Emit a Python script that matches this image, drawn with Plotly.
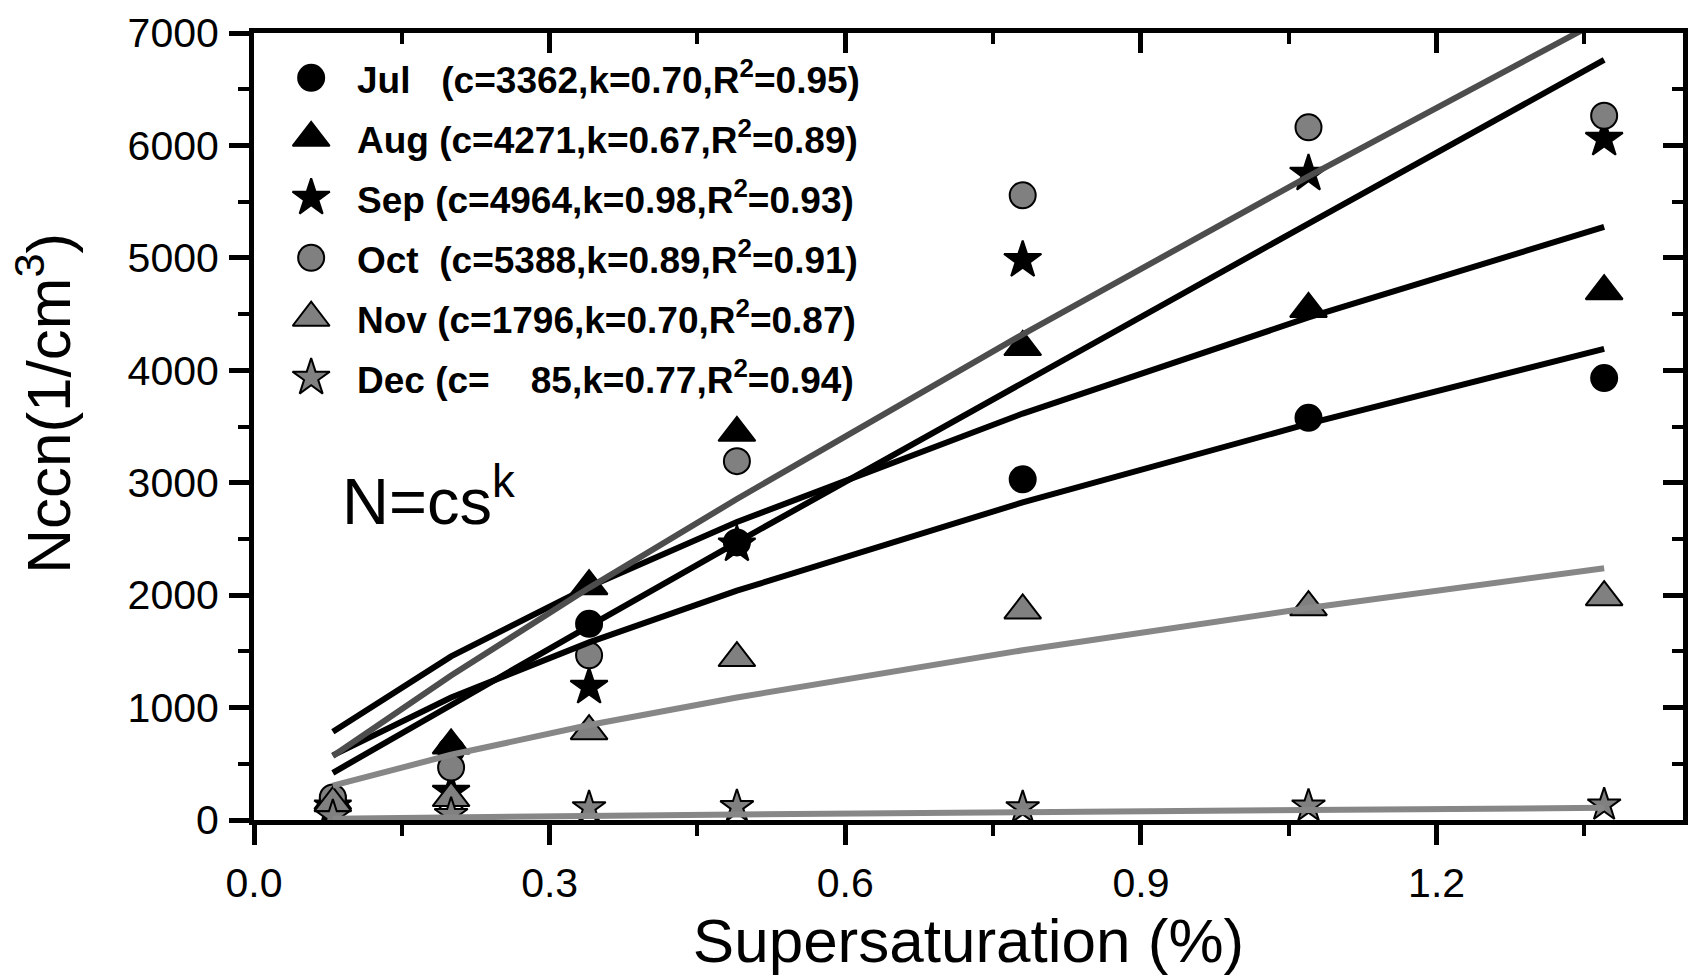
import plotly.graph_objects as go

# ---- data ----
s = [0.08, 0.2, 0.34, 0.49, 0.78, 1.07, 1.37]

jul = [190, 620, 1745, 2469, 3030, 3577, 3931]
aug = [170, 663, 2080, 3444, 4207, 4546, 4704]
sep = [120, 250, 1184, 2450, 4980, 5748, 6058]
octo = [200, 467, 1465, 3192, 5556, 6161, 6264]
nov = [150, 195, 790, 1440, 1864, 1893, 1982]
dec = [30, 50, 110, 120, 110, 125, 135]

# fitted curves N = c s^k
fit_s = [0.08, 0.2, 0.34, 0.49, 0.78, 1.07, 1.37]
fit_jul = [575, 1090, 1580, 2040, 2825, 3525, 4190]
fit_aug = [785, 1455, 2075, 2650, 3615, 4470, 5275]
fit_sep = [420, 1025, 1725, 2470, 3890, 5305, 6760]
fit_oct = [570, 1285, 2065, 2855, 4320, 5725, 7130]
fit_nov = [305, 580, 845, 1090, 1510, 1885, 2240]
fit_dec = [12, 25, 37, 49, 70, 90, 108]

NB = "\u00a0"
labels = [
    "Jul" + NB * 3 + "(c=3362,k=0.70,R<sup>2</sup>=0.95)",
    "Aug" + NB + "(c=4271,k=0.67,R<sup>2</sup>=0.89)",
    "Sep" + NB + "(c=4964,k=0.98,R<sup>2</sup>=0.93)",
    "Oct" + NB * 2 + "(c=5388,k=0.89,R<sup>2</sup>=0.91)",
    "Nov" + NB + "(c=1796,k=0.70,R<sup>2</sup>=0.87)",
    "Dec" + NB + "(c=" + NB * 4 + "85,k=0.77,R<sup>2</sup>=0.94)",
]

series = [jul, aug, sep, octo, nov, dec]
fits = [fit_jul, fit_aug, fit_sep, fit_oct, fit_nov, fit_dec]
symbols = ["circle", "triangle-up", "star", "circle", "triangle-up", "star"]
fills = ["black", "black", "black", "#808080", "#808080", "#808080"]
sizes = [26, 32, 28, 26, 32, 25]
line_colors = ["black", "black", "black", "#4d4d4d", "#878787", "#878787"]

FONT = "Arial, Liberation Sans, sans-serif"

fig = go.Figure()

for i in range(6):
    fig.add_trace(go.Scatter(
        x=s, y=series[i], mode="markers", name=labels[i], showlegend=False,
        marker=dict(symbol=symbols[i], size=sizes[i], color=fills[i],
                    line=dict(color="black", width=2)),
    ))

for i in range(6):
    fig.add_trace(go.Scatter(
        x=fit_s, y=fits[i], mode="lines", showlegend=False,
        line=dict(color=line_colors[i], width=6),
    ))

# dummy trace so the mirrored top/right axes get drawn
fig.add_trace(go.Scatter(x=[], y=[], xaxis="x2", yaxis="y2", showlegend=False))

# ---- hand-built legend (large symbols like the original) on a hidden 0..1 axis ----
LEG_X = 0.04      # symbol column (fraction of plot width)
LEG_TX = 0.0705   # text column
LEG_TOP = 0.943   # first row (fraction of plot height)
LEG_GAP = 0.0762  # row spacing
rows = list(range(6))
leg_y = [LEG_TOP - r * LEG_GAP for r in rows]
for i in rows:
    fig.add_trace(go.Scatter(
        x=[LEG_X], y=[leg_y[i]], xaxis="x3", yaxis="y3", mode="markers",
        showlegend=False, hoverinfo="skip",
        marker=dict(symbol=symbols[i], size=sizes[i] if i != 5 else 28,
                    color=fills[i], line=dict(color="black", width=2)),
    ))
    fig.add_annotation(
        text="<b>" + labels[i] + "</b>", xref="x3", yref="y3",
        x=LEG_TX, y=leg_y[i], xanchor="left", yanchor="middle", showarrow=False,
        font=dict(size=37, family=FONT, color="black"),
    )

XR = [0, 1.45]
YR = [0, 7000]

common = dict(showgrid=False, zeroline=False, linecolor="black", linewidth=5,
              tickcolor="black", tickwidth=5)

fig.update_layout(
    width=1691, height=978,
    paper_bgcolor="white", plot_bgcolor="white",
    margin=dict(l=254, r=8, t=33, b=158),
    font=dict(family=FONT, color="black"),
    xaxis=dict(range=XR, dtick=0.3, tick0=0, tickformat=".1f", ticks="outside",
               ticklen=20, showline=True,
               tickfont=dict(size=41, family=FONT), ticklabelstandoff=3,
               minor=dict(dtick=0.15, tick0=0, ticks="outside", ticklen=11,
                          tickwidth=4, tickcolor="black"),
               title=dict(text="Supersaturation (%)", font=dict(size=62, family=FONT),
                          standoff=12),
               **common),
    yaxis=dict(range=YR, dtick=1000, tick0=0, ticks="outside", ticklen=20,
               showline=True,
               tickfont=dict(size=41, family=FONT), ticklabelstandoff=2,
               minor=dict(dtick=500, tick0=0, ticks="outside", ticklen=11,
                          tickwidth=4, tickcolor="black"),
               **common),
    xaxis2=dict(range=XR, overlaying="x", side="top", dtick=0.3, tick0=0,
                ticks="inside", ticklen=20, showticklabels=False, showline=True,
                minor=dict(dtick=0.15, tick0=0, ticks="inside", ticklen=11,
                           tickwidth=4, tickcolor="black"),
                **common),
    yaxis2=dict(range=YR, overlaying="y", side="right", dtick=1000, tick0=0,
                ticks="inside", ticklen=20, showticklabels=False, showline=True,
                minor=dict(dtick=500, tick0=0, ticks="inside", ticklen=11,
                           tickwidth=4, tickcolor="black"),
                **common),
    xaxis3=dict(range=[0, 1], overlaying="x", visible=False, fixedrange=True),
    yaxis3=dict(range=[0, 1], overlaying="y", visible=False, fixedrange=True),
    showlegend=False,
)

fig.add_annotation(
    text="Nccn(1/cm<sup>3</sup>)", textangle=-90, xref="paper", yref="paper",
    x=-0.147, y=0.53, xanchor="center", yanchor="middle", showarrow=False,
    font=dict(size=62, family=FONT, color="black"),
)

fig.add_annotation(
    text="N=cs<sup>k</sup>", xref="paper", yref="paper",
    x=0.06, y=0.41, xanchor="left", yanchor="middle", showarrow=False,
    font=dict(size=65, family=FONT, color="black"),
)

fig.write_html("out.html")
